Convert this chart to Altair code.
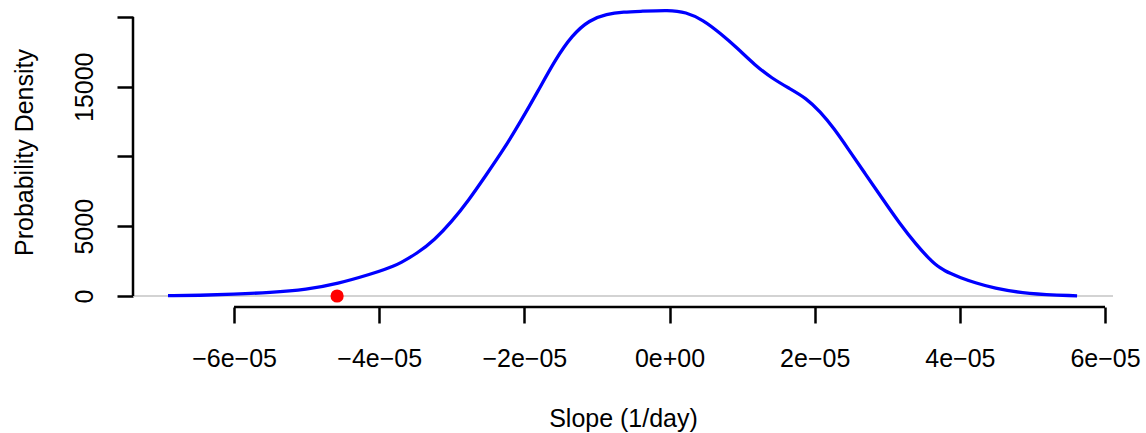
import altair as alt
import pandas as pd

# Kernel density estimate of the fitted slope
SLOPE = [
    -6.910e-05, -6.469e-05, -6.014e-05, -5.504e-05, -4.994e-05, -4.581e-05,
    -4.085e-05, -3.920e-05, -3.810e-05, -3.713e-05, -3.476e-05, -3.239e-05,
    -3.001e-05, -2.764e-05, -2.527e-05, -2.290e-05, -2.053e-05, -1.816e-05,
    -1.578e-05, -1.341e-05, -1.104e-05, -0.867e-05, -0.630e-05, -0.393e-05,
    -0.012e-05, 0.225e-05, 0.462e-05, 0.699e-05, 0.937e-05, 1.174e-05,
    1.411e-05, 1.648e-05, 1.886e-05, 2.075e-05, 2.265e-05, 2.455e-05,
    2.692e-05, 2.929e-05, 3.168e-05, 3.403e-05, 3.593e-05, 3.658e-05,
    3.727e-05, 3.796e-05, 3.865e-05, 4.002e-05, 4.209e-05, 4.457e-05,
    4.926e-05, 5.615e-05,
]
DENSITY = [
    20, 45, 122, 244, 466, 860,
    1613, 1914, 2129, 2344, 3061, 4014,
    5326, 6882, 8674, 10466, 12495, 14645,
    16918, 18710, 19785, 20215, 20358, 20409,
    20502, 20358, 19785, 18832, 17756, 16559,
    15606, 14889, 14172, 13211, 12022, 10588,
    8796, 7004, 5211, 3656, 2581, 2294,
    2022, 1806, 1627, 1319, 946, 573,
    143, 15,
]

# Observed slope, marked on the baseline
OBSERVED_SLOPE = [-4.58e-05]
OBSERVED_DENSITY = [0]

X_TICKS = [-6e-05, -4e-05, -2e-05, 0.0, 2e-05, 4e-05, 6e-05]
X_TICK_LABELS = ["−6e−05", "−4e−05", "−2e−05", "0e+00", "2e−05", "4e−05", "6e−05"]
Y_TICKS = [0, 5000, 10000, 15000, 20000]
Y_TICK_LABELS = ["0", "5000", "", "15000", ""]

X_DOMAIN = [-7.392e-05, 6.110e-05]
Y_DOMAIN = [-789, 21075]

FONT = "Liberation Sans, Arial, sans-serif"


def label_expr(values, labels, tol):
    expr = "''"
    for v, lab in reversed(list(zip(values, labels))):
        expr = f"(abs(datum.value - ({v!r})) < {tol} ? '{lab}' : {expr})"
    return expr


x_scale = alt.Scale(domain=X_DOMAIN, nice=False, zero=False)
y_scale = alt.Scale(domain=Y_DOMAIN, nice=False, zero=False)

x_axis = alt.Axis(
    values=X_TICKS,
    labelExpr=label_expr(X_TICKS, X_TICK_LABELS, 1e-9),
    domain=False, grid=False,
    tickSize=16, tickWidth=2.5, tickColor="black",
    labelFontSize=25, labelFont=FONT, labelColor="black",
    labelBaseline="alphabetic", labelPadding=43.5,
    labelFlush=False, labelOverlap=False,
    title="Slope (1/day)", titleFont=FONT, titleFontSize=25,
    titleFontWeight="normal", titleColor="black",
    titleBaseline="alphabetic", titleY=119,
)
y_axis = alt.Axis(
    values=Y_TICKS,
    labelExpr=label_expr(Y_TICKS, Y_TICK_LABELS, 0.5),
    domain=False, grid=False,
    tickSize=16, tickWidth=2.5, tickColor="black",
    labelFontSize=25, labelFont=FONT, labelColor="black",
    labelAngle=270, labelAlign="center", labelBaseline="bottom",
    labelPadding=20, labelFlush=False, labelOverlap=False,
    title="Probability Density", titleFont=FONT, titleFontSize=25,
    titleFontWeight="normal", titleColor="black",
    titleAngle=270, titleBaseline="middle", titleX=-109, titleY=150,
)

curve = pd.DataFrame({"slope": SLOPE, "density": DENSITY})
observed = pd.DataFrame({"slope": OBSERVED_SLOPE, "density": OBSERVED_DENSITY})

X = lambda f: alt.X(f, type="quantitative", scale=x_scale, axis=x_axis)
Y = lambda f: alt.Y(f, type="quantitative", scale=y_scale, axis=y_axis)

# zero line across the plot region
baseline = alt.Chart(pd.DataFrame({"density": [0]})).mark_rule(
    color="#c4c4c4", strokeWidth=1.3
).encode(y=Y("density"))

density_line = alt.Chart(curve).mark_line(
    color="#0000ff", strokeWidth=3.3, interpolate="basis"
).encode(x=X("slope"), y=Y("density"))

obs_point = alt.Chart(observed).mark_point(
    filled=True, color="#ff0000", opacity=1, size=175
).encode(x=X("slope"), y=Y("density"))

# axis lines spanning only the tick range
x_axis_line = alt.Chart(
    pd.DataFrame({"slope": [X_TICKS[0]], "slope2": [X_TICKS[-1]], "density": [Y_DOMAIN[0]]})
).mark_rule(color="black", strokeWidth=2.5).encode(
    x=X("slope"), x2="slope2", y=Y("density")
)
y_axis_line = alt.Chart(
    pd.DataFrame({"slope": [X_DOMAIN[0]], "density": [Y_TICKS[0]], "density2": [Y_TICKS[-1]]})
).mark_rule(color="black", strokeWidth=2.5).encode(
    x=X("slope"), y=Y("density"), y2="density2"
)

chart = alt.layer(
    baseline, density_line, obs_point, x_axis_line, y_axis_line
).properties(
    width=980, height=305,
    padding={"left": 133, "top": 2, "right": 33, "bottom": 126},
    autosize=alt.AutoSizeParams(type="none"),
    background="white",
).configure_view(stroke=None)

chart.save("out.html", embed_options={"renderer": "svg", "actions": False})
